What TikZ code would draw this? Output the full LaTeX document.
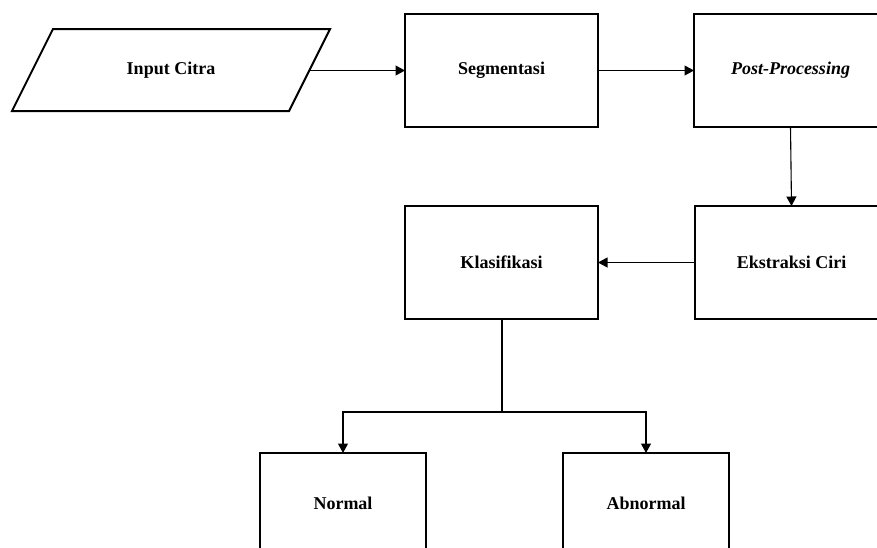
\documentclass[tikz,border=0pt]{standalone}
\usepackage{fontspec}
\setmainfont{Liberation Serif}
\usetikzlibrary{arrows.meta}
\begin{document}
\begin{tikzpicture}[x=1pt,y=-1pt,
  box/.style={draw=black,line width=2pt,rectangle,minimum width=193pt,minimum height=113pt,inner sep=0pt,outer sep=0pt,font=\fontsize{18}{20}\selectfont\bfseries,fill=white},
  lbl/.style={inner sep=0pt,font=\fontsize{18}{20}\selectfont\bfseries},
  shp/.style={draw=black,line width=2pt,line join=miter,fill=white},
  conn/.style={line width=1.1pt,-{Triangle[length=9.5pt,width=10pt]}},
  plain/.style={line width=1.1pt}]
\useasboundingbox (0,0) rectangle (877,547);
\clip (0,0) rectangle (877,547);
\draw[shp] (53,29) -- (330,29) -- (289,111) -- (12,111) -- cycle;
\node[lbl] (inp) at (171,70) {Input Citra};
\coordinate (inpR) at (309.5,70.5);
\node[box] (seg) at (501.5,70.5) {Segmentasi};
\node[box] (post) at (790.5,70.5) {\itshape Post-Processing};
\node[box] (eks) at (791.5,262.5) {Ekstraksi Ciri};
\node[box] (kla) at (501.5,262.5) {Klasifikasi};
\node[box,minimum width=166pt,minimum height=100pt] (nor) at (343,503) {Normal};
\node[box,minimum width=166pt,minimum height=100pt] (abn) at (646,503) {Abnormal};
\coordinate (br) at (502,412);
\draw[conn] (inpR) -- (seg.west);
\draw[conn] (seg.east) -- (post.west);
\draw[conn] (post.south) -- (eks.north);
\draw[conn] (eks.west) -- (kla.east);
\draw[plain] (br |- kla.south) -- (br);
\draw[conn] (br) -| (nor.north);
\draw[conn] (br) -| (abn.north);
\end{tikzpicture}
\end{document}
